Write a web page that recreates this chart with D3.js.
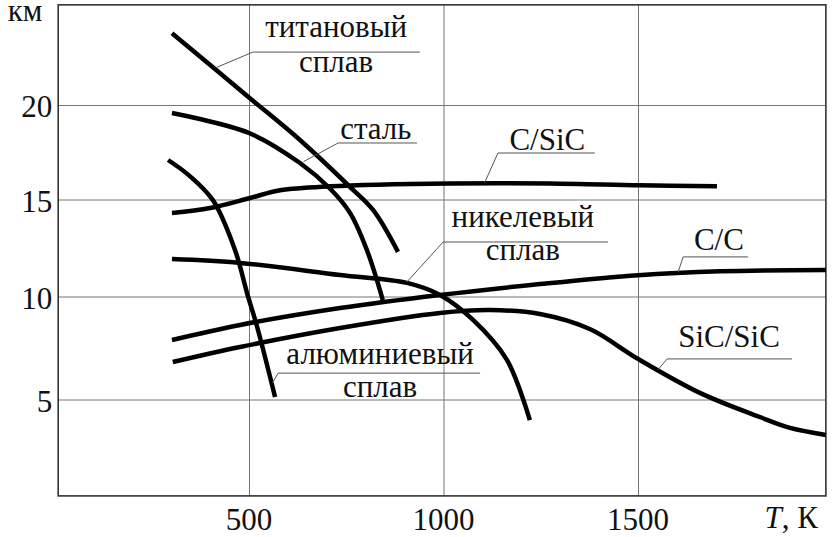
<!DOCTYPE html>
<html>
<head>
<meta charset="utf-8">
<script src="https://cdn.jsdelivr.net/npm/d3@7"></script>
</head>
<body style="margin:0">
<script>
// T, K  vs  km
var titanT = [302, 500, 631, 760, 819, 883];
var titanY = [23.8, 20.4, 18.15, 15.66, 14.46, 12.3];

var steelT = [302, 500, 631, 708, 760, 803, 844];
var steelY = [19.58, 18.52, 16.93, 15.58, 14.3, 12.4, 9.83];

var aluT = [292, 348, 407, 464, 495, 521, 567];
var aluY = [17.09, 16.24, 14.97, 12.4, 10.18, 8.52, 5.12];

var nickelT = [302, 477, 734, 906, 991, 1076, 1163, 1222];
var nickelY = [11.93, 11.73, 11.11, 10.7, 10.08, 8.86, 6.92, 4.0];

var ccT = [302, 477, 734, 991, 1248, 1500, 1711, 1983];
var ccY = [7.89, 8.62, 9.44, 10.08, 10.64, 11.1, 11.3, 11.37];

var sicsicT = [304, 477, 734, 991, 1119, 1248, 1376, 1500, 1659, 1813, 1891, 1983];
var sicsicY = [6.82, 7.55, 8.47, 9.2, 9.34, 9.15, 8.42, 6.97, 5.32, 4.15, 3.62, 3.28];

var csicT = [302, 400, 503, 580, 708, 1017, 1274, 1505, 1703];
var csicY = [14.3, 14.56, 15.08, 15.49, 15.7, 15.85, 15.85, 15.75, 15.7];

var xTicks = [500, 1000, 1500];
var yTicks = [5, 10, 15, 20];

// label lines: text rows, leader start on curve, elbow, end of the underline (data units)
var labelNames = [["титановый", "сплав"], ["сталь"], ["C/SiC"], ["никелевый", "сплав"], ["C/C"], ["SiC/SiC"], ["алюминиевый", "сплав"]];
var labelTextT = [724, 826, 1267, 1204, 1708, 1734, 837];
var labelTextY = [[23.6, 21.75], [18.2], [17.6], [13.58, 11.88], [12.4], [7.55], [6.73, 5.12]];
var leaderFrom = [[418, 22.0], [640, 17.0], [1106, 15.9], [906, 10.75], [1603, 11.25], [1551, 6.44], [560, 5.8]];
var leaderElbow = [[510, 22.8], [729, 17.99], [1140, 17.46], [999, 12.81], [1616, 12.04], [1575, 6.97], [575, 6.28]];
var underlineEnd = [939, 932, 1389, 1423, 1783, 1896, 1094];

var svgWidth = 835;
var svgHeight = 537;
var fam = "Times New Roman";
var fontSize = 31;

var svg = d3.select("body").append("svg")
  .attr("width", svgWidth)
  .attr("height", svgHeight);

function setFont(sel) {
  return sel
    .style("font-family", "'" + fam + "'")
    .style("font-size", fontSize + "px")
    .attr("fill", "#111");
}

var xScale = d3.scaleLinear().domain([0, 2000]).range([54.5, 832.5]);
// the scan is a little uneven between grid lines
var yScale = d3.scaleLinear().domain([5, 10, 15, 20]).range([399.5, 296.5, 199.5, 105]);

var xMin = 9.5, xMax = 1983;
var yMin = 0.32, yMax = 25.3;
var plotLeft = xScale(xMin), plotRight = xScale(xMax);
var plotTop = yScale(yMax), plotBottom = yScale(yMin);

// grid lines from the axes, tick labels drawn separately
var xAxis = svg.append("g")
  .attr("transform", `translate(0, ${plotBottom})`)
  .call(d3.axisBottom(xScale).tickValues(xTicks).tickFormat("")
    .tickSize(-(plotBottom - plotTop)));
xAxis.select(".domain").remove();
xAxis.selectAll("line").attr("stroke", "#777").attr("stroke-width", 1);
xAxis.selectAll("text").remove();

var yAxis = svg.append("g")
  .attr("transform", `translate(${plotLeft}, 0)`)
  .call(d3.axisLeft(yScale).tickValues(yTicks).tickFormat("")
    .tickSize(-(plotRight - plotLeft)));
yAxis.select(".domain").remove();
yAxis.selectAll("line").attr("stroke", "#777").attr("stroke-width", 1);
yAxis.selectAll("text").remove();

xTicks.forEach(function (t) {
  setFont(svg.append("text"))
    .attr("x", xScale(t))
    .attr("y", plotBottom + 34)
    .attr("text-anchor", "middle")
    .text(String(t));
});

yTicks.forEach(function (v) {
  setFont(svg.append("text"))
    .attr("x", plotLeft - 6)
    .attr("y", yScale(v) + 12)
    .attr("text-anchor", "end")
    .text(String(v));
});

// frame
svg.append("rect")
  .attr("x", plotLeft)
  .attr("y", plotTop)
  .attr("width", plotRight - plotLeft)
  .attr("height", plotBottom - plotTop)
  .attr("fill", "none")
  .attr("stroke", "#333")
  .attr("stroke-width", 1.6);

// curves
var line = d3.line()
  .x(d => xScale(d[0]))
  .y(d => yScale(d[1]))
  .curve(d3.curveCatmullRom.alpha(0.5));

var curves = [
  [titanT, titanY], [steelT, steelY], [aluT, aluY], [nickelT, nickelY],
  [ccT, ccY], [sicsicT, sicsicY], [csicT, csicY]
];

curves.forEach(function (c) {
  var pts = c[0].map((t, i) => [t, c[1][i]]);
  svg.append("path")
    .datum(pts)
    .attr("d", line)
    .attr("fill", "none")
    .attr("stroke", "#000")
    .attr("stroke-width", 4.5);
});

// labels with leaders
labelNames.forEach(function (rows, i) {
  var pts = [leaderFrom[i], leaderElbow[i], [underlineEnd[i], leaderElbow[i][1]]];
  svg.append("path")
    .datum(pts)
    .attr("d", d3.line().x(d => xScale(d[0])).y(d => yScale(d[1])))
    .attr("fill", "none")
    .attr("stroke", "#555")
    .attr("stroke-width", 1);

  rows.forEach(function (r, j) {
    setFont(svg.append("text"))
      .attr("x", xScale(labelTextT[i]))
      .attr("y", yScale(labelTextY[i][j]))
      .attr("text-anchor", "middle")
      .text(r);
  });
});

// axis titles
setFont(svg.append("text"))
  .attr("x", 25)
  .attr("y", 21)
  .attr("text-anchor", "middle")
  .text("км");

var tLabel = setFont(svg.append("text"))
  .attr("x", 818)
  .attr("y", 528)
  .attr("text-anchor", "end");
tLabel.append("tspan").style("font-style", "italic").text("T");
tLabel.append("tspan").text(", К");
</script>
</body>
</html>
